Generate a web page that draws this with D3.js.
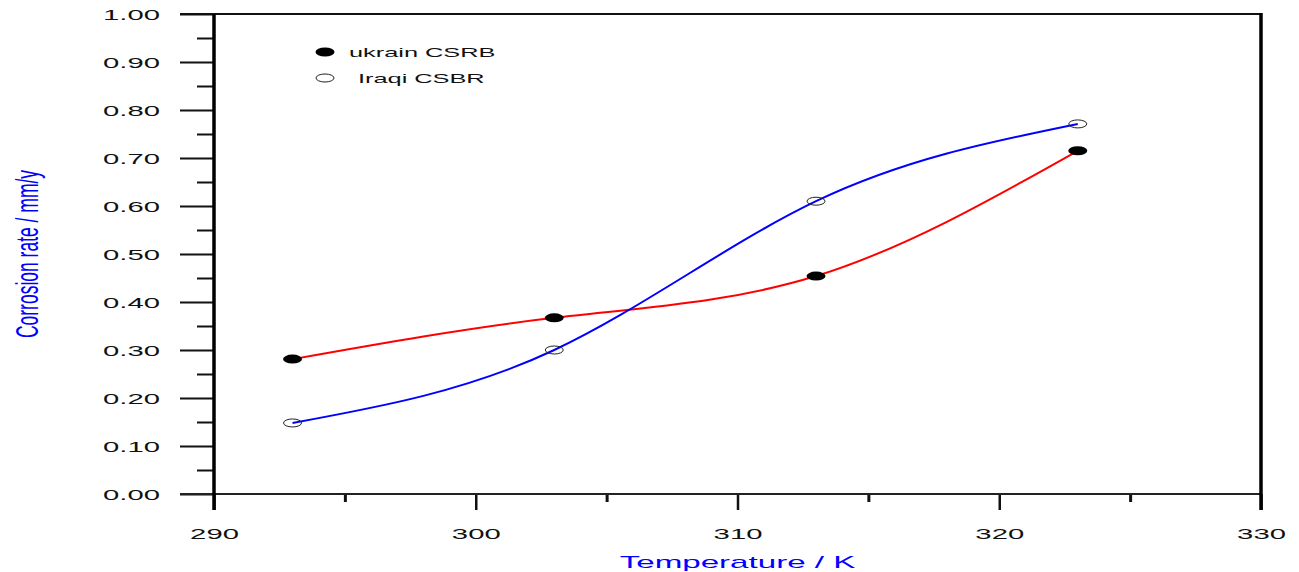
<!DOCTYPE html>
<html>
<head>
<meta charset="utf-8">
<script src="https://cdn.jsdelivr.net/npm/d3@7"></script>
<style>
  body { margin: 0; background: #fff; }
  svg { display: block; }
  text { font-family: "Liberation Sans", Arial, sans-serif; }
</style>
</head>
<body>
<div id="chart"></div>
<script>
/* data */
var temps = [293, 303, 313, 323]
var ukrainRate = [0.281, 0.367, 0.454, 0.715]
var iraqiRate = [0.148, 0.300, 0.610, 0.771]
var seriesNames = ["ukrain CSRB", "Iraqi CSBR"]
var xMajor = [290, 300, 310, 320, 330]
var xMinor = [295, 305, 315, 325]
var yMajor = [0, 0.1, 0.2, 0.3, 0.4, 0.5, 0.6, 0.7, 0.8, 0.9, 1.0]
var yMinor = [0.05, 0.15, 0.25, 0.35, 0.45, 0.55, 0.65, 0.75, 0.85, 0.95]

/* layout */
var W = 1299, H = 572
var plot = { left: 214, right: 1261, top: 14, bottom: 494 }
var stretch = 1.95 // the original text is wide, stretched sideways

var x = d3.scaleLinear().domain([290, 330]).range([plot.left, plot.right])
var y = d3.scaleLinear().domain([0, 1]).range([plot.bottom, plot.top])

var svg = d3.select("#chart").append("svg")
  .attr("width", W)
  .attr("height", H)

/* y axis: major ticks with labels, minor ticks without */
var yAxis = svg.append("g")
  .attr("transform", "translate(" + plot.left + ",0)")
  .call(d3.axisLeft(y).tickValues(yMajor).tickSize(34).tickSizeOuter(0).tickFormat(d3.format(".2f")))
yAxis.select(".domain").remove()
yAxis.selectAll(".tick line").attr("stroke", "#111").attr("stroke-width", 2)
yAxis.selectAll(".tick text")
  .attr("x", null).attr("dy", null)
  .attr("transform", "translate(-54,5.5) scale(" + stretch + ",1)")
  .attr("text-anchor", "end")
  .attr("font-size", 15)
  .attr("fill", "#111")
  .attr("font-family", "'Liberation Sans', Arial, sans-serif")

var yMinorAxis = svg.append("g")
  .attr("transform", "translate(" + plot.left + ",0)")
  .call(d3.axisLeft(y).tickValues(yMinor).tickSize(17).tickSizeOuter(0).tickFormat(""))
yMinorAxis.select(".domain").remove()
yMinorAxis.selectAll(".tick line").attr("stroke", "#111").attr("stroke-width", 2)

/* x axis */
var xAxis = svg.append("g")
  .attr("transform", "translate(0," + plot.bottom + ")")
  .call(d3.axisBottom(x).tickValues(xMajor).tickSize(16).tickSizeOuter(0).tickFormat(d3.format("d")))
xAxis.select(".domain").remove()
xAxis.selectAll(".tick line").attr("stroke", "#111").attr("stroke-width", 2.5)
xAxis.selectAll(".tick text")
  .attr("y", null).attr("dy", null)
  .attr("transform", "translate(0,45) scale(" + stretch + ",1)")
  .attr("text-anchor", "middle")
  .attr("font-size", 15)
  .attr("fill", "#111")
  .attr("font-family", "'Liberation Sans', Arial, sans-serif")

var xMinorAxis = svg.append("g")
  .attr("transform", "translate(0," + plot.bottom + ")")
  .call(d3.axisBottom(x).tickValues(xMinor).tickSize(8).tickSizeOuter(0).tickFormat(""))
xMinorAxis.select(".domain").remove()
xMinorAxis.selectAll(".tick line").attr("stroke", "#111").attr("stroke-width", 3)

/* frame */
svg.append("line") // top, reaches out like the 1.00 tick
  .attr("x1", plot.left - 34).attr("x2", plot.right)
  .attr("y1", y(1)).attr("y2", y(1))
  .attr("stroke", "#111").attr("stroke-width", 2)
svg.append("line") // bottom, reaches out like the 0.00 tick
  .attr("x1", plot.left - 34).attr("x2", plot.right)
  .attr("y1", y(0)).attr("y2", y(0))
  .attr("stroke", "#222").attr("stroke-width", 2)
svg.append("line") // left
  .attr("x1", x(290)).attr("x2", x(290))
  .attr("y1", y(1)).attr("y2", y(0) + 16)
  .attr("stroke", "#000").attr("stroke-width", 3.5)
svg.append("line") // right
  .attr("x1", x(330)).attr("x2", x(330))
  .attr("y1", y(1) - 1).attr("y2", y(0) + 16)
  .attr("stroke", "#000").attr("stroke-width", 3.5)

/* curves */
var ukrainData = temps.map(function(t, i) { return { t: t, v: ukrainRate[i] } })
var iraqiData = temps.map(function(t, i) { return { t: t, v: iraqiRate[i] } })

var lineFn = d3.line()
  .x(function(d) { return x(d.t) })
  .y(function(d) { return y(d.v) })
  .curve(d3.curveNatural)

svg.append("path")
  .attr("d", lineFn(ukrainData))
  .attr("fill", "none")
  .attr("stroke", "#ff0000")
  .attr("stroke-width", 2)
svg.append("path")
  .attr("d", lineFn(iraqiData))
  .attr("fill", "none")
  .attr("stroke", "#0000ff")
  .attr("stroke-width", 2)

/* markers */
svg.selectAll(".ukrainDot")
  .data(ukrainData)
  .enter().append("ellipse")
  .attr("class", "ukrainDot")
  .attr("cx", function(d) { return x(d.t) })
  .attr("cy", function(d) { return y(d.v) })
  .attr("rx", 9.5).attr("ry", 4.5)
  .attr("fill", "#000")
svg.selectAll(".iraqiDot")
  .data(iraqiData)
  .enter().append("ellipse")
  .attr("class", "iraqiDot")
  .attr("cx", function(d) { return x(d.t) })
  .attr("cy", function(d) { return y(d.v) })
  .attr("rx", 9).attr("ry", 4)
  .attr("fill", "none")
  .attr("stroke", "#222")
  .attr("stroke-width", 1)

/* legend */
var legend = svg.append("g")
legend.append("ellipse")
  .attr("cx", 325).attr("cy", 52).attr("rx", 9.5).attr("ry", 4.5)
  .attr("fill", "#000")
legend.append("text")
  .attr("transform", "translate(349,57) scale(" + stretch + ",1)")
  .attr("font-size", 13)
  .attr("fill", "#111")
  .text(seriesNames[0])
legend.append("ellipse")
  .attr("cx", 325).attr("cy", 78).attr("rx", 9).attr("ry", 4)
  .attr("fill", "none").attr("stroke", "#222").attr("stroke-width", 1)
legend.append("text")
  .attr("transform", "translate(358,83) scale(" + stretch + ",1)")
  .attr("font-size", 13)
  .attr("fill", "#111")
  .text(seriesNames[1])

/* axis titles */
svg.append("text")
  .attr("transform", "translate(" + x(310) + ",568) scale(" + stretch + ",1)")
  .attr("text-anchor", "middle")
  .attr("font-size", 17)
  .attr("fill", "#0000ff")
  .text("Temperature / K")
svg.append("text")
  .attr("transform", "translate(38,254) scale(" + (stretch * 0.93) + ",1) rotate(-90)")
  .attr("text-anchor", "middle")
  .attr("font-size", 17.5)
  .attr("fill", "#0000ff")
  .text("Corrosion rate / mm/y")
</script>
</body>
</html>
